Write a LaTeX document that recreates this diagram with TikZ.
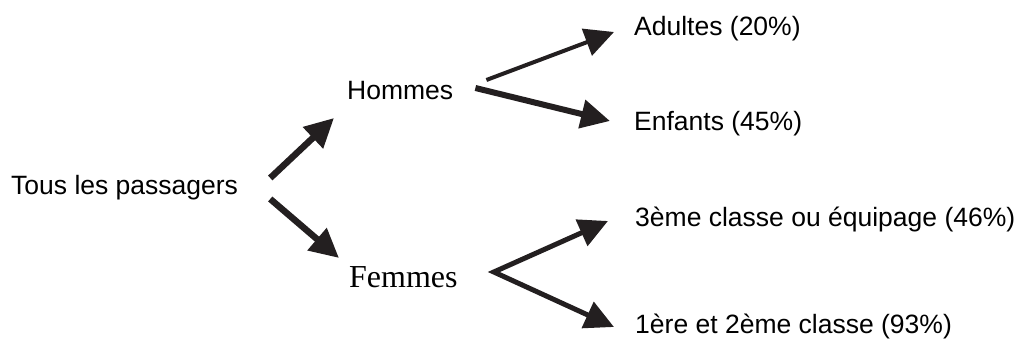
\documentclass[tikz,border=0pt]{standalone}
\usepackage{fontspec}
\setmainfont{Liberation Sans}
\newfontfamily\serifface{Liberation Serif}
\usetikzlibrary{arrows.meta,calc}
\definecolor{arrowc}{RGB}{35,31,32}
\tikzset{
  lbl/.style={anchor=base west,inner sep=0pt,font=\fontsize{26.5}{30}\selectfont},
  serlbl/.style={anchor=base west,inner sep=0pt,font=\serifface\fontsize{32}{36}\selectfont},
  bighead/.tip={Triangle[length=29pt,width=28pt]},
  arr/.style={draw=arrowc,line width=#1,-bighead,line join=miter},
  arr/.default=6pt
}
\begin{document}
\begin{tikzpicture}[x=1pt,y=1pt]
\useasboundingbox (0,0) rectangle (1017,344);
\node[lbl] (tous) at (11,149) {Tous les passagers};
\node[lbl] (hommes) at (347,244) {Hommes};
\node[serlbl] (femmes) at (349,56) {Femmes};
\node[lbl] (adultes) at (634,308) {Adultes (20\%)};
\node[lbl] (enfants) at (634,213) {Enfants (45\%)};
\node[lbl] (troisieme) at (635,117) {3ème classe ou équipage (46\%)};
\node[lbl] (premiere) at (635,10) {1ère et 2ème classe (93\%)};
\coordinate (fork) at ($(femmes.base east)+(36,16)$);
\draw[arr=6.5pt] ($(tous.base east)+(32,17)$) -- ($(hommes.base west)+(-13,-18)$);
\draw[arr=6.5pt] ($(tous.base east)+(32,-4)$) -- ($(femmes.base west)+(-10,30)$);
\draw[arr=4pt] ($(hommes.base east)+(33,20)$) -- ($(adultes.base west)+(-20,4)$);
\draw[arr=6pt] ($(hommes.base east)+(22,12)$) -- ($(enfants.base west)+(-24,10)$);
\draw[arr=5pt,bighead-bighead] ($(troisieme.base west)+(-27,6)$) -- (fork) -- ($(premiere.base west)+(-21,7)$);
\end{tikzpicture}
\end{document}
